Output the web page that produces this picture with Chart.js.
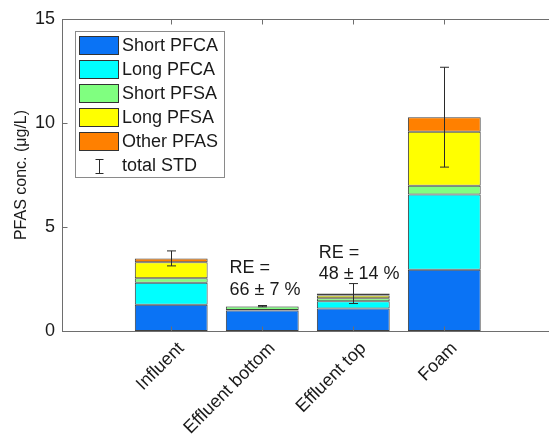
<!DOCTYPE html>
<html>
<head>
<meta charset="utf-8">
<script src="https://cdn.jsdelivr.net/npm/chart.js@4/dist/chart.umd.min.js"></script>
<style>
  html, body { margin: 0; padding: 0; background: #ffffff; }
  #c { display: block; }
</style>
</head>
<body>
<canvas id="c" width="549" height="434"></canvas>
<script>
// ---- data ----
const categories = ['Influent', 'Effluent bottom', 'Effluent top', 'Foam'];
const xPositions = [1, 2, 3, 4];
const shortPFCA = [1.26, 0.99, 1.08, 2.94];
const longPFCA  = [1.06, 0.02, 0.35, 3.62];
const shortPFSA = [0.22, 0.17, 0.15, 0.42];
const longPFSA  = [0.77, 0.005, 0.13, 2.60];
const otherPFAS = [0.18, 0.01, 0.09, 0.70];
const totalSTD  = [0.36, 0.03, 0.48, 2.40];
const yTicks = [0, 5, 10, 15];
const annotations = [
  { x: 1.64, lines: ['RE =', '66 \u00b1 7 %'], y: [2.81, 1.75] },
  { x: 2.62, lines: ['RE =', '48 \u00b1 14 %'], y: [3.53, 2.48] }
];

const seriesNames = ['Short PFCA', 'Long PFCA', 'Short PFSA', 'Long PFSA', 'Other PFAS'];
const seriesValues = [shortPFCA, longPFCA, shortPFSA, longPFSA, otherPFAS];
const seriesColors = ['rgb(10,115,245)', 'rgb(0,255,255)', 'rgb(128,255,128)', 'rgb(255,255,0)', 'rgb(255,128,0)'];

const FONT = 'Arial, "Liberation Sans", Helvetica, sans-serif';
const AXIS_COLOR = '#6e6e6e';
const TEXT_COLOR = '#1a1a1a';

const datasets = seriesNames.map((name, s) => ({
  label: name,
  data: xPositions.map((x, i) => ({ x: x, y: seriesValues[s][i] })),
  backgroundColor: seriesColors[s],
  borderColor: 'rgba(30,30,30,0.85)',
  borderWidth: 1,
  borderSkipped: false,
  barPercentage: 0.8,
  categoryPercentage: 1.0
}));

const decorPlugin = {
  id: 'decor',
  afterDatasetsDraw(chart) {
    const ctx = chart.ctx;
    const xs = chart.scales.x, ys = chart.scales.y;
    const ca = chart.chartArea;
    ctx.save();
    // error bars
    ctx.strokeStyle = '#2a2a2a';
    ctx.lineWidth = 1;
    xPositions.forEach((xv, i) => {
      let total = 0;
      seriesValues.forEach(arr => { total += arr[i]; });
      const px = Math.round(xs.getPixelForValue(xv)) + 0.5;
      const yTop = ys.getPixelForValue(total + totalSTD[i]);
      const yBot = ys.getPixelForValue(total - totalSTD[i]);
      const cap = 4.5;
      ctx.beginPath();
      ctx.moveTo(px, yTop); ctx.lineTo(px, yBot);
      ctx.moveTo(px - cap, yTop); ctx.lineTo(px + cap, yTop);
      ctx.moveTo(px - cap, yBot); ctx.lineTo(px + cap, yBot);
      ctx.stroke();
    });
    // axes frame (top border) and inward ticks
    ctx.strokeStyle = AXIS_COLOR;
    ctx.beginPath();
    const topY = Math.round(ca.top) + 0.5;
    ctx.moveTo(ca.left, topY); ctx.lineTo(ca.right, topY);
    const leftX = Math.round(ca.left) + 0.5;
    yTicks.forEach(v => {
      const py = Math.round(ys.getPixelForValue(v)) + 0.5;
      ctx.moveTo(leftX, py); ctx.lineTo(leftX + 5, py);
    });
    const botY = Math.round(ca.bottom) + 0.5;
    xPositions.forEach(v => {
      const px = Math.round(xs.getPixelForValue(v)) + 0.5;
      ctx.moveTo(px, botY); ctx.lineTo(px, botY - 5);
      ctx.moveTo(px, topY); ctx.lineTo(px, topY + 5);
    });
    ctx.stroke();
    // annotations
    ctx.fillStyle = TEXT_COLOR;
    ctx.font = '18px ' + FONT;
    ctx.textAlign = 'left';
    ctx.textBaseline = 'alphabetic';
    annotations.forEach(a => {
      const px = xs.getPixelForValue(a.x);
      a.lines.forEach((t, k) => {
        ctx.fillText(t, px, ys.getPixelForValue(a.y[k]));
      });
    });
    // legend box
    const lx = 75.5, ly = 31.5, lw = 149, lh = 146;
    ctx.fillStyle = '#ffffff';
    ctx.fillRect(lx, ly, lw, lh);
    ctx.strokeStyle = '#8a8a8a';
    ctx.strokeRect(lx, ly, lw, lh);
    const rowPitch = 24;
    chart.data.datasets.forEach((ds, k) => {
      const ry = 36 + k * rowPitch;
      ctx.fillStyle = ds.backgroundColor;
      ctx.fillRect(79.5, ry + 0.5, 39, 18);
      ctx.strokeStyle = '#333333';
      ctx.strokeRect(79.5, ry + 0.5, 39, 18);
      ctx.fillStyle = TEXT_COLOR;
      ctx.textBaseline = 'middle';
      ctx.fillText(ds.label, 122, ry + 10);
    });
    // total STD entry
    const sy = 36 + 5 * rowPitch;
    ctx.strokeStyle = '#2a2a2a';
    ctx.beginPath();
    ctx.moveTo(99.5, sy + 3); ctx.lineTo(99.5, sy + 18);
    ctx.moveTo(95.5, sy + 3.5); ctx.lineTo(103.5, sy + 3.5);
    ctx.moveTo(95.5, sy + 17.5); ctx.lineTo(103.5, sy + 17.5);
    ctx.stroke();
    ctx.fillStyle = TEXT_COLOR;
    ctx.fillText('total STD', 122, sy + 10);
    ctx.restore();
  }
};

new Chart(document.getElementById('c'), {
  type: 'bar',
  data: { datasets: datasets },
  options: {
    responsive: false,
    animation: false,
    layout: { padding: { top: 19, right: 0, left: 0, bottom: 0 } },
    plugins: { legend: { display: false }, tooltip: { enabled: false } },
    scales: {
      x: {
        type: 'linear',
        stacked: true,
        offset: false,
        min: -0.2,
        max: 5.15,
        grid: { display: false, drawTicks: false, offset: false },
        border: { display: true, color: AXIS_COLOR, width: 1 },
        afterBuildTicks(scale) { scale.ticks = xPositions.map(v => ({ value: v })); },
        afterFit(scale) { scale.height = 103; },
        ticks: {
          autoSkip: false,
          maxRotation: 45,
          minRotation: 45,
          padding: 7,
          labelOffset: 10,
          color: TEXT_COLOR,
          font: { family: FONT, size: 18 },
          callback: (v) => categories[xPositions.indexOf(v)]
        }
      },
      y: {
        stacked: true,
        min: 0,
        max: 15,
        grid: { display: false, drawTicks: false },
        border: { display: true, color: AXIS_COLOR, width: 1 },
        afterBuildTicks(scale) { scale.ticks = yTicks.map(v => ({ value: v })); },
        afterFit(scale) { scale.width = 62; },
        ticks: {
          padding: 7,
          color: TEXT_COLOR,
          font: { family: FONT, size: 18 }
        },
        title: {
          display: true,
          text: 'PFAS conc. (\u03bcg/L)',
          color: TEXT_COLOR,
          font: { family: FONT, size: 16 },
          padding: { top: 12, bottom: 0 }
        }
      }
    }
  },
  plugins: [decorPlugin]
});
</script>
</body>
</html>
